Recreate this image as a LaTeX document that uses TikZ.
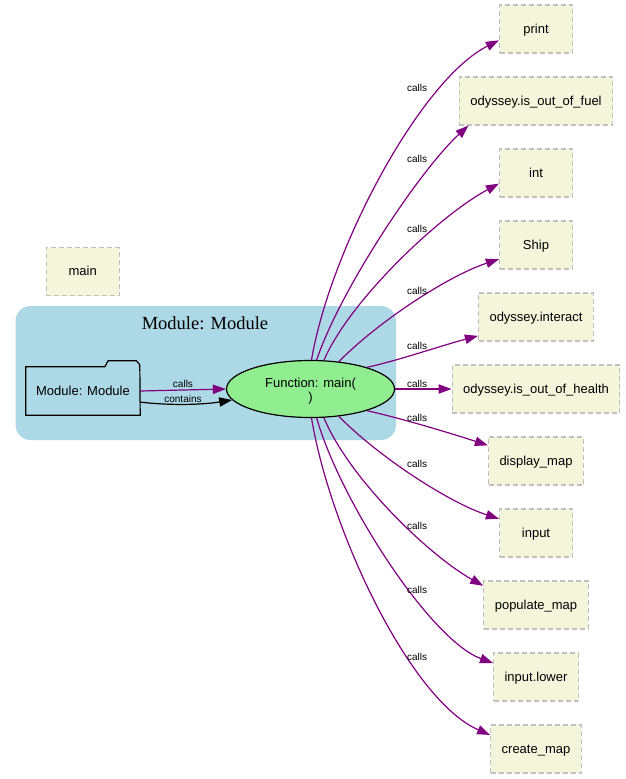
\documentclass[tikz,border=0pt]{standalone}
\usepackage{fontspec}
\setmainfont{Liberation Sans}
\newfontfamily\serifttl{Liberation Serif}
\usetikzlibrary{arrows.meta,shapes.geometric}
\definecolor{callpurple}{RGB}{128,0,128}
\definecolor{clusterblue}{RGB}{173,216,230}
\definecolor{fngreen}{RGB}{144,238,144}
\definecolor{extbeige}{RGB}{245,245,220}
\definecolor{extgray}{RGB}{192,192,192}

\begin{document}
\begin{tikzpicture}[x=1pt,y=-1pt,
  extbox/.style={draw=extgray,fill=extbeige,line width=1.2pt,dash pattern=on 5pt off 3pt,
    minimum width=73pt,minimum height=48pt,inner xsep=11pt,inner ysep=0pt,
    text height=9.5pt,text depth=0.7pt,font=\fontsize{13}{15}\selectfont},
  funcnode/.style={ellipse,draw=black,fill=fngreen,line width=1.2pt,minimum width=168pt,
    minimum height=57pt,inner sep=0pt,align=center,text height=28pt,text depth=2.8pt,
    font=\fontsize{13}{14}\selectfont},
  lbl/.style={inner sep=0pt,font=\fontsize{10}{12}\selectfont},
  call/.style={callpurple,line width=1.2pt,-{Triangle[length=13pt,width=9.3pt]}}]
\useasboundingbox (0,0) rectangle (625,779);
%cluster
\fill[clusterblue,rounded corners=15pt] (15.5,306) rectangle (396,440);
\node[font=\serifttl\fontsize{18.5}{20}\selectfont] (clustitle) at (205,323) {Module: Module};
%nodes
\node[extbox] (main) at (82.7,271.5) {main};
\node[minimum width=114pt,minimum height=48pt,inner sep=0pt,text height=9.5pt,text depth=0.7pt,
  font=\fontsize{13}{15}\selectfont] (mod) at (83,391) {Module: Module};
\draw[line width=1.2pt] (mod.south west) -- (mod.north west) -- ++(79,0) -- ++(3.3,-6) -- ++(28.4,0) -- ++(3.3,4) -- (mod.south east) -- cycle;
\node[funcnode] (fn) at (310.5,389) {Function: main(\\)};
\foreach \nm/\txt [count=\i from 0] in {print/print, fuel/odyssey.is\_out\_of\_fuel, int/int, ship/Ship,
  interact/odyssey.interact, health/odyssey.is\_out\_of\_health, display/display\_map, input/input,
  populate/populate\_map, lower/input.lower, create/create\_map}
  \node[extbox] (\nm) at (536,{29+72*\i}) {\txt};
%module to function
\draw[call] (mod.east) -- (fn.west);
\draw[line width=1.2pt,-{Triangle[length=13pt,width=9.3pt]}] (mod.349) .. controls (170,405.5) and (200,405) .. (fn.188);
\node[lbl] (lcall) at (183,384) {calls};
\node[lbl] (lcont) at (183,398.5) {contains};
%calls
\draw[call] (fn.88) .. controls (330,250) and (420,80) .. (print.197);
\draw[call] (fn.78) .. controls (340,290) and (420,170) .. (fuel.200);
\draw[call] (fn.65) .. controls (350,300) and (440,215) .. (int.196);
\draw[call] (fn.44) .. controls (380,320) and (450,275) .. (ship.201);
\draw[call] (fn.21) .. controls (400,360) and (440,346) .. (interact.198);
\draw[call] (fn.east) -- (health.west);
\draw[call] (fn.339) .. controls (400,418) and (450,433) .. (display.162);
\draw[call] (fn.316) .. controls (380,458) and (450,503) .. (input.159);
\draw[call] (fn.295) .. controls (350,480) and (430,556) .. (populate.160);
\draw[call] (fn.282) .. controls (340,500) and (430,640) .. (lower.162);
\draw[call] (fn.272) .. controls (330,530) and (410,700) .. (create.163);
\foreach \y [count=\i] in {88,159,229,291,345.7,384,417.5,464,525.7,590,657.3}
  \node[lbl] (lab\i) at (417,\y) {calls};
\end{tikzpicture}
\end{document}
